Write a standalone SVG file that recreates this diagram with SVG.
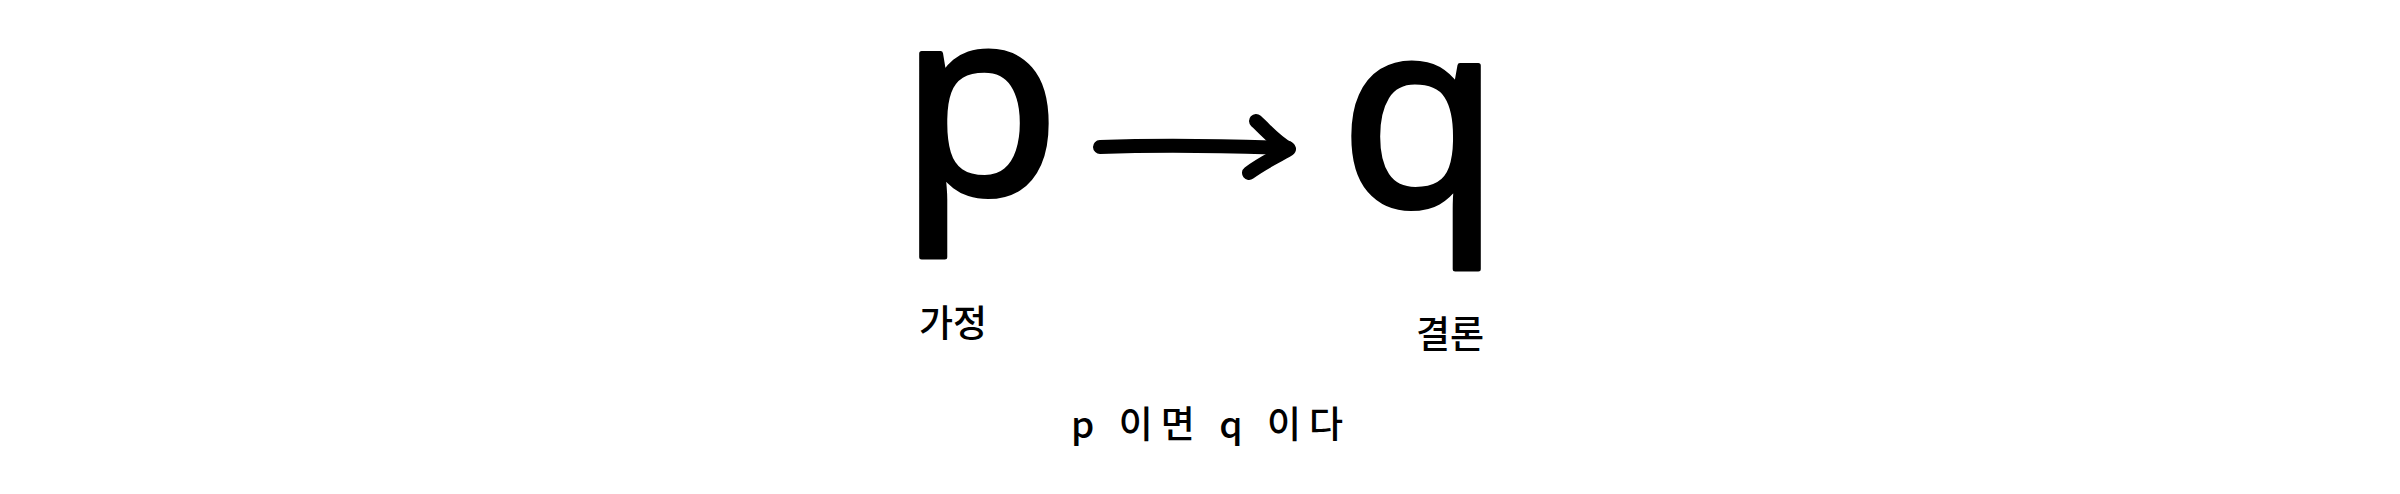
<svg xmlns="http://www.w3.org/2000/svg" width="2400" height="494" viewBox="0 0 2400 494">
<style>
.big{font-family:"Noto Sans","DejaVu Sans",sans-serif;font-size:262px;fill:#000;stroke:#000;stroke-width:5;stroke-linejoin:round;text-anchor:middle}
.lbl{font-family:"Noto Sans CJK KR","Noto Sans",sans-serif;font-size:37px;font-weight:500;fill:#000;text-anchor:middle}
.conn{fill:none;stroke:#000;stroke-width:14;stroke-linecap:round;stroke-linejoin:round}
</style>
<rect width="2400" height="494" fill="#fff"/>
<g id="node-p">
<text class="big" x="980" y="194">p</text>
<text class="lbl" x="953" y="337">가정</text>
</g>
<g id="node-q">
<text class="big" x="1420" y="206">q</text>
<text class="lbl" x="1450" y="348">결론</text>
</g>
<g id="connectors">
<path class="conn" d="M1100,147 C1160,145 1230,146 1288,148"/>
<path class="conn" d="M1256,121 C1268,132 1276,142 1289,149 C1276,157 1262,163 1249,173"/>
</g>
<g id="caption">
<text class="lbl" x="1207" y="438" font-size="34" textLength="272" lengthAdjust="spacing">p 이면 q 이다</text>
</g>
</svg>
